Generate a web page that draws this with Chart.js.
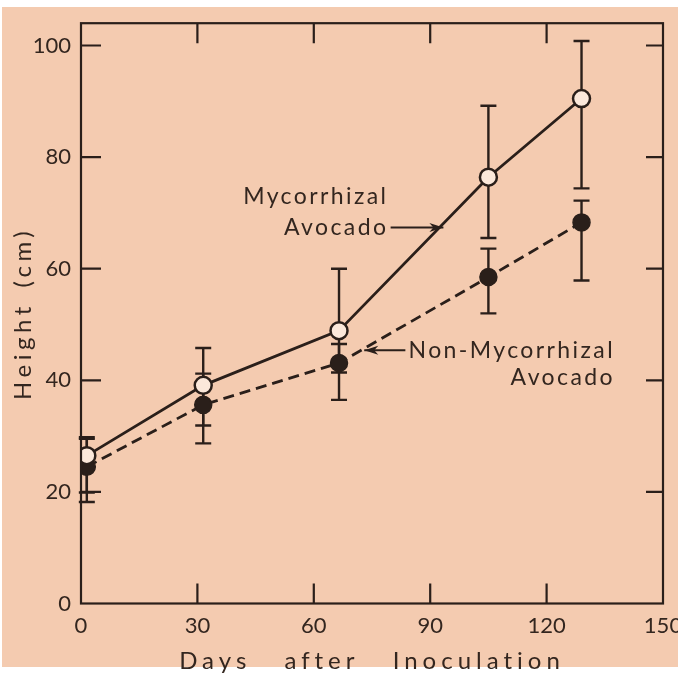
<!DOCTYPE html>
<html><head><meta charset="utf-8">
<script src="https://cdn.jsdelivr.net/npm/chart.js@4.4.1/dist/chart.umd.min.js"></script>
<style>
html,body{margin:0;padding:0;overflow:hidden;background:#fff;width:678px;height:673px}
canvas{display:block}
</style></head>
<body>
<canvas id="c" width="700" height="673" style="width:700px;height:673px"></canvas>
<script>
// ---- data ----
const days       = [1.5, 31.5, 66.5, 105, 129];
const mycHeight  = [26.5, 39.1, 48.9, 76.4, 90.5];
const mycLow     = [19.9, 31.9, 41.4, 65.5, 74.4];
const mycHigh    = [29.8, 45.8, 60.0, 89.2, 100.8];
const nonHeight  = [24.5, 35.6, 43.1, 58.5, 68.3];
const nonLow     = [18.2, 28.7, 36.5, 52.0, 57.9];
const nonHigh    = [29.5, 41.2, 46.5, 63.6, 72.2];
const xTicks     = [0, 30, 60, 90, 120, 150];
const yTicks     = [0, 20, 40, 60, 80, 100];
const xTitle     = 'Days after Inoculation';
const yTitle     = 'Height (cm)';
const mycLabel   = ['Mycorrhizal', 'Avocado'];
const nonLabel   = ['Non-Mycorrhizal', 'Avocado'];

const INK = '#2a1f1a', TEXT = '#33261f', PAPER = '#f4cbb0', HOLLOW = '#fbe8da';
const FONT = 'Lato';

// letter spacing for axis titles
const titleSpacing = { x: { letter: '5px', word: '22px' }, y: { letter: '4.5px', word: '4px' } };
const origDrawTitle = Chart.Scale.prototype.drawTitle;
Chart.Scale.prototype.drawTitle = function () {
  const ctx = this.ctx, s = titleSpacing[this.id];
  ctx.save();
  if (s) { ctx.letterSpacing = s.letter; ctx.wordSpacing = s.word; }
  origDrawTitle.call(this);
  ctx.restore();
};

const paperPlugin = {
  id: 'paper',
  beforeDraw(chart) {
    const ctx = chart.ctx;
    ctx.save();
    ctx.fillStyle = '#ffffff';
    ctx.fillRect(0, 0, chart.width, chart.height);
    ctx.fillStyle = PAPER;
    ctx.fillRect(2, 7, chart.width, 660);
    ctx.restore();
  }
};

const errorBars = [
  { low: mycLow, high: mycHigh },
  { low: nonLow, high: nonHigh }
];
const errorPlugin = {
  id: 'errorbars',
  beforeDatasetsDraw(chart) {
    const ctx = chart.ctx, xs = chart.scales.x, ys = chart.scales.y;
    ctx.save();
    ctx.strokeStyle = INK;
    ctx.lineWidth = 2.4;
    errorBars.forEach(eb => {
      days.forEach((d, i) => {
        const x = xs.getPixelForValue(d);
        const y1 = ys.getPixelForValue(eb.low[i]);
        const y2 = ys.getPixelForValue(eb.high[i]);
        ctx.beginPath();
        ctx.moveTo(x, y1); ctx.lineTo(x, y2);
        ctx.moveTo(x - 8, y1); ctx.lineTo(x + 8, y1);
        ctx.moveTo(x - 8, y2); ctx.lineTo(x + 8, y2);
        ctx.stroke();
      });
    });
    ctx.restore();
  }
};

const framePlugin = {
  id: 'frame',
  afterDraw(chart) {
    const ctx = chart.ctx, a = chart.chartArea, xs = chart.scales.x, ys = chart.scales.y;
    ctx.save();
    ctx.strokeStyle = INK;
    ctx.lineWidth = 2.2;
    ctx.strokeRect(a.left, a.top, a.right - a.left, a.bottom - a.top);
    ctx.beginPath();
    xTicks.forEach(v => {
      if (v === xs.min || v === xs.max) return;
      const x = xs.getPixelForValue(v);
      ctx.moveTo(x, a.bottom); ctx.lineTo(x, a.bottom - 20);
      ctx.moveTo(x, a.top); ctx.lineTo(x, a.top + 20);
    });
    yTicks.forEach(v => {
      if (v === ys.min) return;
      const y = ys.getPixelForValue(v);
      ctx.moveTo(a.left, y); ctx.lineTo(a.left + 20, y);
      ctx.moveTo(a.right, y); ctx.lineTo(a.right - 17, y);
    });
    ctx.stroke();
    ctx.restore();
  }
};

// annotation positions in data units
const annotations = [
  { lines: mycLabel, x: 78.6, y: [72.9, 67.4], arrow: { from: [79.8, 67.4], to: [93.4, 67.4] } },
  { lines: nonLabel, x: 137.0, y: [45.4, 40.5], arrow: { from: [83.6, 45.4], to: [73.0, 45.4] } }
];
const annotationPlugin = {
  id: 'notes',
  afterDraw(chart) {
    const ctx = chart.ctx, xs = chart.scales.x, ys = chart.scales.y;
    ctx.save();
    ctx.font = '23px ' + FONT;
    ctx.letterSpacing = '2.4px';
    ctx.textBaseline = 'middle';
    ctx.textAlign = 'right';
    annotations.forEach(an => {
      ctx.fillStyle = TEXT;
      an.lines.forEach((t, k) => {
        ctx.fillText(t, xs.getPixelForValue(an.x) + 2.4, ys.getPixelForValue(an.y[k]));
      });
      const x1 = xs.getPixelForValue(an.arrow.from[0]), y1 = ys.getPixelForValue(an.arrow.from[1]);
      const x2 = xs.getPixelForValue(an.arrow.to[0]), y2 = ys.getPixelForValue(an.arrow.to[1]);
      ctx.strokeStyle = INK;
      ctx.lineWidth = 2;
      ctx.beginPath(); ctx.moveTo(x1, y1); ctx.lineTo(x2, y2); ctx.stroke();
      const dir = Math.sign(x2 - x1);
      ctx.beginPath();
      ctx.moveTo(x2, y2);
      ctx.lineTo(x2 - dir * 14, y2 - 4.5);
      ctx.lineTo(x2 - dir * 10, y2);
      ctx.lineTo(x2 - dir * 14, y2 + 4.5);
      ctx.closePath();
      ctx.fillStyle = INK;
      ctx.fill();
    });
    ctx.restore();
  }
};

const toPts = ys => days.map((d, i) => ({ x: d, y: ys[i] }));

new Chart(document.getElementById('c'), {
  type: 'line',
  data: {
    datasets: [
      {
        label: 'Mycorrhizal Avocado',
        data: toPts(mycHeight),
        borderColor: INK, borderWidth: 2.8,
        pointRadius: 8.5, pointBorderWidth: 2.5,
        pointBackgroundColor: HOLLOW, pointBorderColor: INK,
        tension: 0, fill: false
      },
      {
        label: 'Non-Mycorrhizal Avocado',
        data: toPts(nonHeight),
        borderColor: INK, borderWidth: 2.8, borderDash: [11, 6],
        pointRadius: 8.5, pointBorderWidth: 1.5,
        pointBackgroundColor: INK, pointBorderColor: INK,
        tension: 0, fill: false
      }
    ]
  },
  options: {
    responsive: false,
    animation: false,
    devicePixelRatio: 1,
    layout: { padding: { left: 0, right: 37, top: 12, bottom: 0 } },
    plugins: { legend: { display: false }, tooltip: { enabled: false } },
    scales: {
      x: {
        type: 'linear', min: 0, max: 150,
        afterBuildTicks: s => { s.ticks = xTicks.map(v => ({ value: v })); },
        afterFit: s => { s.height = 69.5; },
        grid: { display: false, drawTicks: false },
        border: { display: false },
        ticks: { padding: 9, color: TEXT, font: { family: FONT, size: 22 }, maxRotation: 0, autoSkip: false },
        title: { display: true, text: xTitle, color: TEXT, font: { family: FONT, size: 24, lineHeight: 1 }, padding: { top: 0, bottom: 0 } }
      },
      y: {
        type: 'linear', min: 0, max: 104,
        afterBuildTicks: s => { s.ticks = yTicks.map(v => ({ value: v })); },
        afterFit: s => { s.width = 81; },
        grid: { display: false, drawTicks: false },
        border: { display: false },
        ticks: { padding: 10, color: TEXT, font: { family: FONT, size: 22 }, autoSkip: false },
        title: { display: true, text: yTitle, color: TEXT, font: { family: FONT, size: 24, lineHeight: 1 }, padding: { top: 11, bottom: 0 } }
      }
    }
  },
  plugins: [paperPlugin, errorPlugin, framePlugin, annotationPlugin]
});
</script>
</body></html>
